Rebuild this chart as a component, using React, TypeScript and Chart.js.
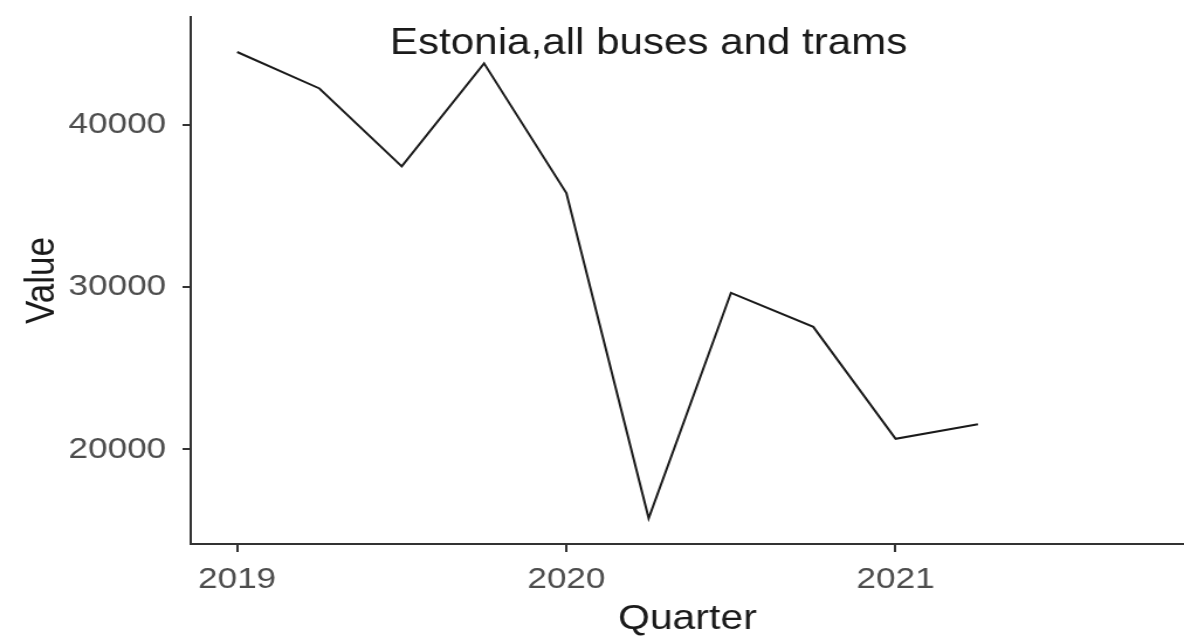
import React, { useEffect, useRef } from "react";
import { Chart, registerables } from "chart.js";

Chart.register(...registerables);

// Data
const quarters: number[] = [2019, 2019.25, 2019.5, 2019.75, 2020, 2020.25, 2020.5, 2020.75, 2021, 2021.25];
const values: number[] = [44500, 42250, 37450, 43800, 35800, 15750, 29650, 27550, 20650, 21550];
const xTickValues: number[] = [2019, 2020, 2021];
const yTickValues: number[] = [20000, 30000, 40000];
const chartTitle = "Estonia,all buses and trams";
const xAxisTitle = "Quarter";
const yAxisTitle = "Value";
// annotation anchor (data coordinates)
const titleAnchorX = 2020.25;
const titleAnchorY = 45000;

const FONT = '"Liberation Sans", Arial, Helvetica, sans-serif';
const INTERNAL_W = 1012; // drawn width, stretched to 1184 on screen
const INTERNAL_H = 640;

export default function App() {
  const ref = useRef<HTMLCanvasElement | null>(null);

  useEffect(() => {
    if (!ref.current) return;
    const titlePlugin = {
      id: "annotTitle",
      afterDatasetsDraw(chart: any) {
        const { ctx, scales } = chart;
        const x = scales.x.getPixelForValue(titleAnchorX);
        const y = scales.y.getPixelForValue(titleAnchorY);
        ctx.save();
        ctx.font = `36px ${FONT}`;
        ctx.fillStyle = "#1a1a1a";
        ctx.textAlign = "center";
        ctx.textBaseline = "middle";
        ctx.fillText(chartTitle, x, y);
        ctx.restore();
      },
    };

    const chart = new Chart(ref.current, {
      type: "line",
      data: {
        datasets: [
          {
            data: quarters.map((q, i) => ({ x: q, y: values[i] })),
            borderColor: "#1a1a1a",
            borderWidth: 2,
            pointRadius: 0,
            tension: 0,
            fill: false,
          },
        ],
      },
      options: {
        responsive: false,
        animation: false,
        devicePixelRatio: 1,
        layout: { padding: { top: 17, right: 0, left: 0, bottom: 0 } },
        plugins: {
          legend: { display: false },
          tooltip: { enabled: false },
          title: { display: false },
        },
        scales: {
          x: {
            type: "linear",
            min: 2018.859,
            max: 2021.876,
            afterBuildTicks: (scale: any) => {
              scale.ticks = xTickValues.map((v) => ({ value: v }));
            },
            afterFit: (scale: any) => {
              scale.height = 96;
              scale.paddingLeft = 0;
              scale.paddingRight = 0;
            },
            ticks: {
              callback: (v: any) => String(v),
              color: "#4d4d4d",
              font: { family: FONT, size: 30 },
              padding: 10,
              maxRotation: 0,
              autoSkip: false,
            },
            grid: {
              display: true,
              drawOnChartArea: false,
              drawTicks: true,
              tickLength: 8,
              color: "#333333",
              lineWidth: 2,
            },
            border: { display: true, color: "#333333", width: 2 },
            title: {
              display: true,
              text: xAxisTitle,
              color: "#1a1a1a",
              font: { family: FONT, size: 35 },
              padding: { top: 0, bottom: 0 },
            },
          },
          y: {
            type: "linear",
            min: 14162,
            max: 46658,
            afterBuildTicks: (scale: any) => {
              scale.ticks = yTickValues.map((v) => ({ value: v }));
            },
            afterFit: (scale: any) => {
              scale.width = 163;
              scale.paddingTop = 0;
              scale.paddingBottom = 0;
            },
            ticks: {
              callback: (v: any) => String(v),
              color: "#4d4d4d",
              font: { family: FONT, size: 30 },
              padding: 14,
              autoSkip: false,
            },
            grid: {
              display: true,
              drawOnChartArea: false,
              drawTicks: true,
              tickLength: 7,
              color: "#333333",
              lineWidth: 2,
            },
            border: { display: true, color: "#333333", width: 2 },
            title: {
              display: true,
              text: yAxisTitle,
              color: "#1a1a1a",
              font: { family: FONT, size: 35 },
              padding: { top: 15, bottom: 0 },
            },
          },
        },
      },
      plugins: [titlePlugin],
    } as any);

    return () => chart.destroy();
  }, []);

  return (
    <div style={{ position: "fixed", left: 0, top: 0, width: 1184, height: 640, background: "#fff" }}>
      <canvas
        ref={ref}
        width={INTERNAL_W}
        height={INTERNAL_H}
        style={{ width: "1184px", height: "640px", display: "block" }}
      />
    </div>
  );
}
